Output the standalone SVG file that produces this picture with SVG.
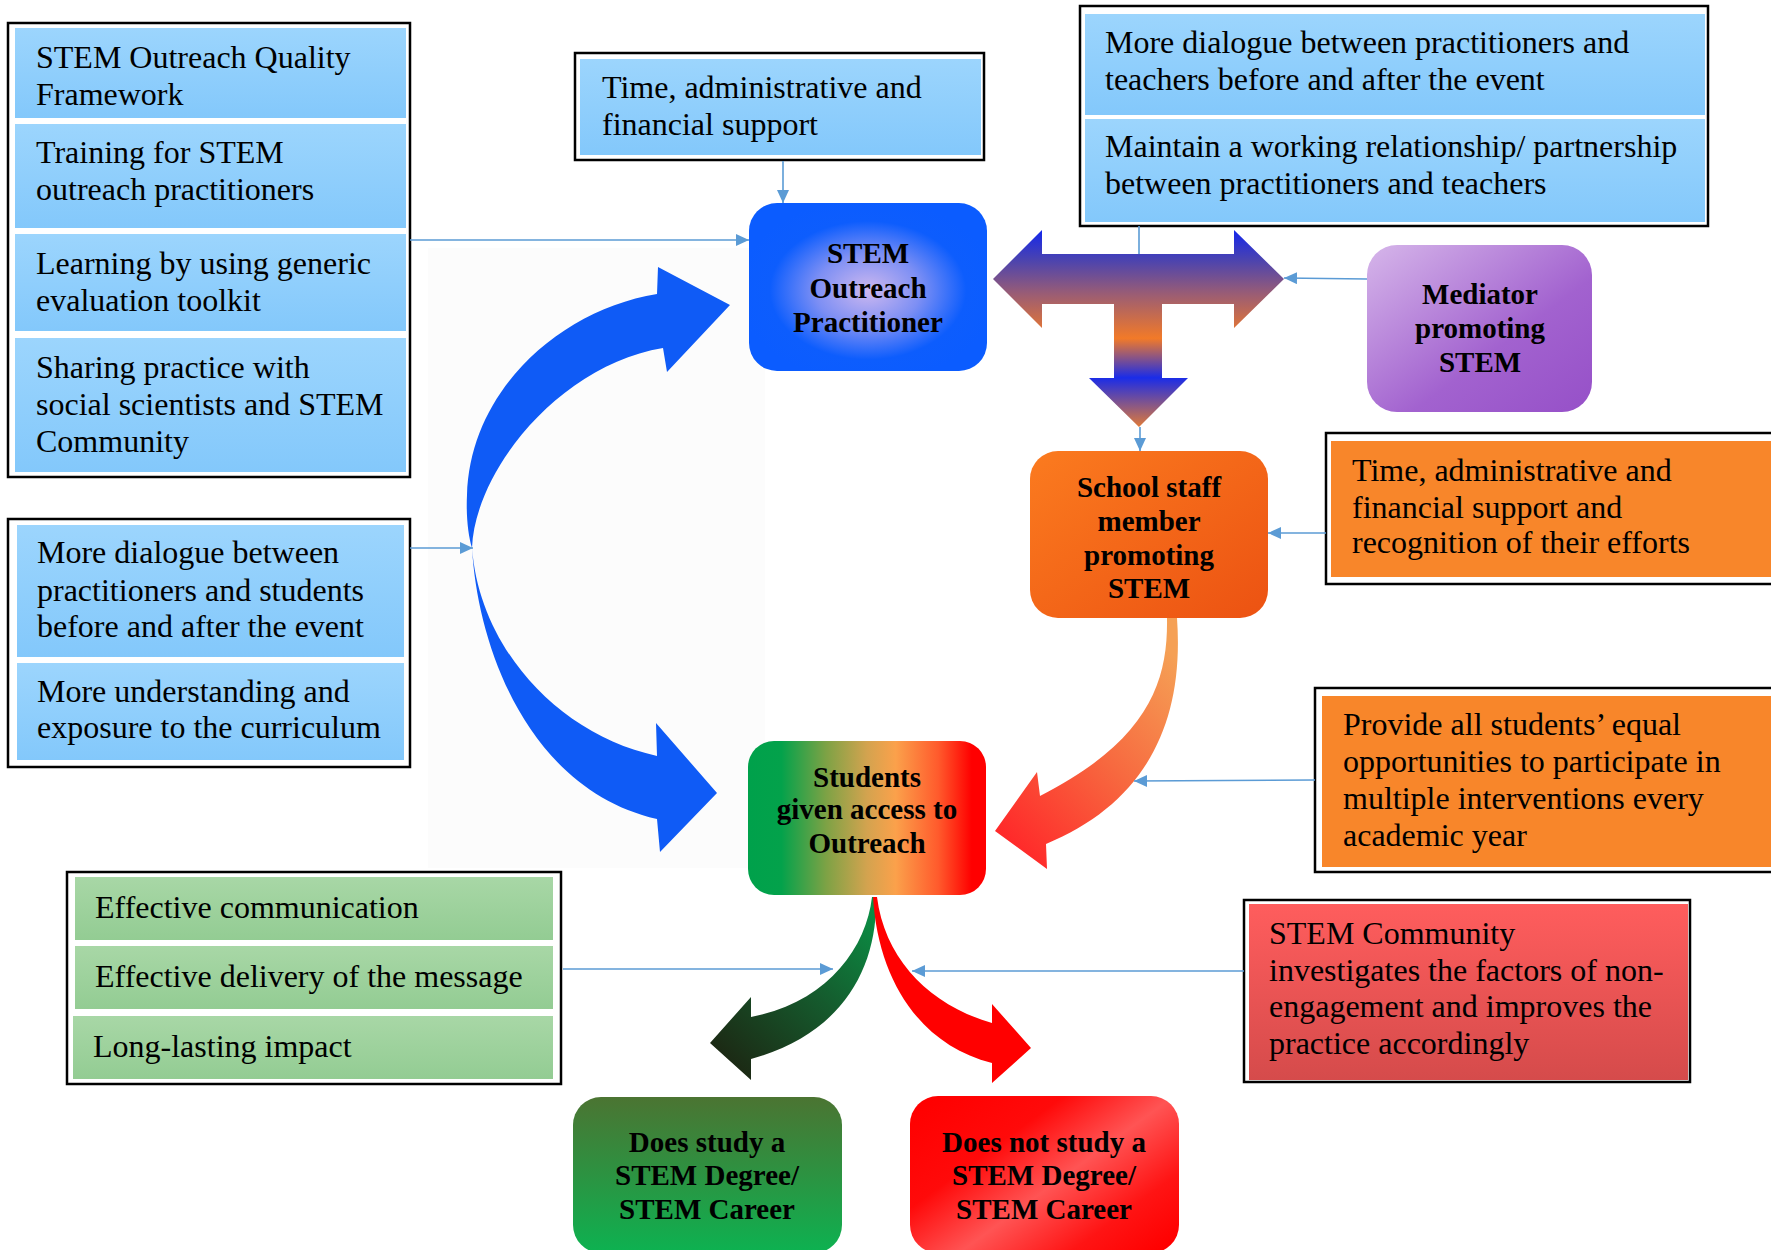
<svg xmlns="http://www.w3.org/2000/svg" width="1771" height="1250" viewBox="0 0 1771 1250">
<style>
.t{font-family:"Liberation Serif","Times New Roman",serif;font-size:32px;fill:#000}
.b{font-family:"Liberation Serif","Times New Roman",serif;font-size:29px;font-weight:bold;fill:#000;text-anchor:middle}
.frame{fill:#fff;stroke:#000;stroke-width:2.5}
.conn{stroke:#5b9bd5;stroke-width:1.6;fill:none}
.blue{fill:url(#gBlueCell)}
.orange{fill:#f8862a}
.green{fill:url(#gGreenCell)}
</style>
<defs>
<marker id="ah" markerUnits="userSpaceOnUse" markerWidth="14" markerHeight="14" refX="13" refY="6" orient="auto">
<path d="M0,0 L13,6 L0,12 Z" fill="#5b9bd5"/>
</marker>
<linearGradient id="gBlueCell" x1="0" y1="0" x2="0" y2="1"><stop offset="0" stop-color="#9cd5fd"/><stop offset="1" stop-color="#83c8fb"/></linearGradient>
<linearGradient id="gGreenCell" x1="0" y1="0" x2="0" y2="1"><stop offset="0" stop-color="#a8d7a6"/><stop offset="1" stop-color="#93cc93"/></linearGradient>
<linearGradient id="gRedBox" x1="0" y1="0" x2="0" y2="1"><stop offset="0" stop-color="#ff5d5d"/><stop offset="1" stop-color="#d54b4b"/></linearGradient>
<radialGradient id="gPract" cx="0.5" cy="0.52" r="0.55"><stop offset="0" stop-color="#cdb8ef"/><stop offset="0.4" stop-color="#7d8ff4"/><stop offset="0.75" stop-color="#0d5dfd"/><stop offset="1" stop-color="#0b5cff"/></radialGradient>
<linearGradient id="gMed" x1="0" y1="0" x2="1" y2="1"><stop offset="0" stop-color="#d6b6ea"/><stop offset="0.6" stop-color="#a262cf"/><stop offset="1" stop-color="#9650c8"/></linearGradient>
<linearGradient id="gSchool" x1="0" y1="0" x2="1" y2="1"><stop offset="0" stop-color="#fb7b1f"/><stop offset="1" stop-color="#ec5212"/></linearGradient>
<linearGradient id="gStud" x1="0" y1="0" x2="1" y2="0"><stop offset="0" stop-color="#00a14b"/><stop offset="0.14" stop-color="#03a24b"/><stop offset="0.33" stop-color="#7ea245"/><stop offset="0.5" stop-color="#d3a34f"/><stop offset="0.62" stop-color="#fba14b"/><stop offset="0.8" stop-color="#ff5a2c"/><stop offset="0.94" stop-color="#ff0000"/><stop offset="1" stop-color="#ff0000"/></linearGradient>
<linearGradient id="gDoes" x1="0" y1="0" x2="0" y2="1"><stop offset="0" stop-color="#4b7432"/><stop offset="1" stop-color="#0db251"/></linearGradient>
<linearGradient id="gNot" x1="0" y1="0.1" x2="1" y2="0.9"><stop offset="0" stop-color="#ff0000"/><stop offset="0.3" stop-color="#ff0a0a"/><stop offset="0.55" stop-color="#ff5454"/><stop offset="0.8" stop-color="#ff1414"/><stop offset="1" stop-color="#ff0000"/></linearGradient>
<linearGradient id="gT" gradientUnits="userSpaceOnUse" x1="0" y1="230" x2="0" y2="427"><stop offset="0" stop-color="#1427ec"/><stop offset="0.15" stop-color="#4a43b0"/><stop offset="0.32" stop-color="#985c76"/><stop offset="0.55" stop-color="#f27a28"/><stop offset="0.75" stop-color="#1a2ce8"/><stop offset="1" stop-color="#e07a38"/></linearGradient>
<linearGradient id="gOrangeArrow" gradientUnits="userSpaceOnUse" x1="1000" y1="830" x2="1178" y2="660"><stop offset="0" stop-color="#ff2a2a"/><stop offset="0.5" stop-color="#f7683f"/><stop offset="1" stop-color="#f5a055"/></linearGradient>
<linearGradient id="gGreenArrow" gradientUnits="userSpaceOnUse" x1="872" y1="900" x2="725" y2="1060"><stop offset="0" stop-color="#0a9246"/><stop offset="0.5" stop-color="#155a2d"/><stop offset="1" stop-color="#1c2914"/></linearGradient>
</defs>
<rect width="1771" height="1250" fill="#fff"/>
<rect x="428" y="248" width="337" height="620" fill="#fcfcfc"/>

<g id="box-practitioner-support">
<rect class="frame" x="8" y="23" width="402" height="454"/>
<rect class="blue" x="15" y="28" width="391" height="90"/>
<rect class="blue" x="15" y="124" width="391" height="104"/>
<rect class="blue" x="15" y="234" width="391" height="97"/>
<rect class="blue" x="15" y="338" width="391" height="134"/>
<text class="t"><tspan x="36" y="68">STEM Outreach Quality</tspan><tspan x="36" y="105">Framework</tspan></text>
<text class="t"><tspan x="36" y="163">Training for STEM</tspan><tspan x="36" y="200">outreach practitioners</tspan></text>
<text class="t"><tspan x="36" y="274">Learning by using generic</tspan><tspan x="36" y="311">evaluation toolkit</tspan></text>
<text class="t"><tspan x="36" y="378">Sharing practice with</tspan><tspan x="36" y="415">social scientists and STEM</tspan><tspan x="36" y="452">Community</tspan></text>
</g>

<g id="box-time-support">
<rect class="frame" x="575" y="53" width="409" height="107"/>
<rect class="blue" x="580" y="59" width="401" height="96"/>
<text class="t"><tspan x="602" y="98">Time, administrative and</tspan><tspan x="602" y="135">financial support</tspan></text>
</g>

<g id="box-teacher-dialogue">
<rect class="frame" x="1080" y="6" width="628" height="220"/>
<rect class="blue" x="1085" y="14" width="620" height="101"/>
<rect class="blue" x="1085" y="119" width="620" height="103"/>
<text class="t"><tspan x="1105" y="53">More dialogue between practitioners and</tspan><tspan x="1105" y="90">teachers before and after the event</tspan></text>
<text class="t"><tspan x="1105" y="157">Maintain a working relationship/ partnership</tspan><tspan x="1105" y="194">between practitioners and teachers</tspan></text>
</g>

<g id="box-school-support">
<rect class="frame" x="1326" y="433" width="470" height="151"/>
<rect class="orange" x="1331" y="441" width="460" height="136"/>
<text class="t"><tspan x="1352" y="481">Time, administrative and</tspan><tspan x="1352" y="518">financial support and</tspan><tspan x="1352" y="553">recognition of their efforts</tspan></text>
</g>

<g id="box-equal-opportunities">
<rect class="frame" x="1315" y="688" width="480" height="184"/>
<rect class="orange" x="1322" y="696" width="470" height="171"/>
<text class="t"><tspan x="1343" y="735">Provide all students’ equal</tspan><tspan x="1343" y="772">opportunities to participate in</tspan><tspan x="1343" y="809">multiple interventions every</tspan><tspan x="1343" y="846">academic year</tspan></text>
</g>

<g id="box-student-dialogue">
<rect class="frame" x="8" y="519" width="402" height="248"/>
<rect class="blue" x="17" y="525" width="387" height="132"/>
<rect class="blue" x="17" y="663" width="387" height="97"/>
<text class="t"><tspan x="37" y="563">More dialogue between</tspan><tspan x="37" y="601">practitioners and students</tspan><tspan x="37" y="637">before and after the event</tspan></text>
<text class="t"><tspan x="37" y="702">More understanding and</tspan><tspan x="37" y="738">exposure to the curriculum</tspan></text>
</g>

<g id="box-effective">
<rect class="frame" x="67" y="872" width="494" height="212"/>
<rect class="green" x="75" y="877" width="478" height="63"/>
<rect class="green" x="75" y="946" width="478" height="63"/>
<rect class="green" x="73" y="1016" width="480" height="63"/>
<text class="t" x="95" y="918">Effective communication</text>
<text class="t" x="95" y="987">Effective delivery of the message</text>
<text class="t" x="93" y="1057">Long-lasting impact</text>
</g>

<g id="box-community">
<rect class="frame" x="1244" y="900" width="446" height="182"/>
<rect x="1249" y="904" width="439" height="176" fill="url(#gRedBox)"/>
<text class="t"><tspan x="1269" y="944">STEM Community</tspan><tspan x="1269" y="981">investigates the factors of non-</tspan><tspan x="1269" y="1017">engagement and improves the</tspan><tspan x="1269" y="1054">practice accordingly</tspan></text>
</g>

<g id="connectors">
<path id="blue-cycle-arrow" fill="#0f5bf6" d="M730,305 L667,372 L663,348 C560,365 475,470 472,548 C480,650 560,735 657,756 L656,723 L717,793 L660,852 L657,819 C530,790 478,650 472,548 C468,535 466,515 467,495 C470,390 560,310 657,294 L658,267 Z"/>
<path id="t-arrow" fill="url(#gT)" d="M993,279 L1042,230 L1042,254 L1234,254 L1234,230 L1284,279 L1234,328 L1234,304 L1162,304 L1162,378 L1188,378 L1139,427 L1089,378 L1114,378 L1114,304 L1042,304 L1042,328 Z"/>
<path id="orange-arrow" fill="url(#gOrangeArrow)" d="M1167,618 C1168,680 1150,740 1040,796 L1037,772 L995,831 L1047,869 L1046,844 C1140,805 1185,730 1177,618 Z"/>
<path id="green-arrow" fill="url(#gGreenArrow)" d="M872,897 C866,950 825,1003 751,1017 L751,997 L710,1043 L751,1080 L751,1059 C840,1035 878,970 876,897 Z"/>
<path id="red-arrow" fill="#ff0000" d="M873,897 C878,980 920,1045 992,1063 L992,1083 L1031,1048 L992,1004 L992,1023 C930,1005 885,960 877,897 Z"/>
<line class="conn" x1="783" y1="161" x2="783" y2="203" marker-end="url(#ah)"/>
<line class="conn" x1="410" y1="240" x2="749" y2="240" marker-end="url(#ah)"/>
<line class="conn" x1="1139" y1="226" x2="1139" y2="254"/>
<line class="conn" x1="1140" y1="427" x2="1140" y2="451" marker-end="url(#ah)"/>
<line class="conn" x1="1367" y1="279" x2="1284" y2="278" marker-end="url(#ah)"/>
<line class="conn" x1="1326" y1="533" x2="1268" y2="533" marker-end="url(#ah)"/>
<line class="conn" x1="410" y1="548" x2="473" y2="548" marker-end="url(#ah)"/>
<line class="conn" x1="1315" y1="780" x2="1134" y2="781" marker-end="url(#ah)"/>
<line class="conn" x1="563" y1="969" x2="833" y2="969" marker-end="url(#ah)"/>
<line class="conn" x1="1244" y1="971" x2="912" y2="971" marker-end="url(#ah)"/>
</g>

<g id="node-practitioner">
<rect x="749" y="203" width="238" height="168" rx="28" fill="url(#gPract)"/>
<text class="b"><tspan x="868" y="263">STEM</tspan><tspan x="868" y="298">Outreach</tspan><tspan x="868" y="332">Practitioner</tspan></text>
</g>
<g id="node-mediator">
<rect x="1367" y="245" width="225" height="167" rx="30" fill="url(#gMed)"/>
<text class="b"><tspan x="1480" y="304">Mediator</tspan><tspan x="1480" y="338">promoting</tspan><tspan x="1480" y="372">STEM</tspan></text>
</g>
<g id="node-school">
<rect x="1030" y="451" width="238" height="167" rx="28" fill="url(#gSchool)"/>
<text class="b"><tspan x="1149" y="497">School staff</tspan><tspan x="1149" y="531">member</tspan><tspan x="1149" y="565">promoting</tspan><tspan x="1149" y="598">STEM</tspan></text>
</g>
<g id="node-students">
<rect x="748" y="741" width="238" height="154" rx="26" fill="url(#gStud)"/>
<text class="b"><tspan x="867" y="787">Students</tspan><tspan x="867" y="819">given access to</tspan><tspan x="867" y="853">Outreach</tspan></text>
</g>
<g id="node-does-study">
<rect x="573" y="1097" width="269" height="156" rx="28" fill="url(#gDoes)"/>
<text class="b"><tspan x="707" y="1152">Does study a</tspan><tspan x="707" y="1185">STEM Degree/</tspan><tspan x="707" y="1219">STEM Career</tspan></text>
</g>
<g id="node-does-not-study">
<rect x="910" y="1096" width="269" height="157" rx="28" fill="url(#gNot)"/>
<text class="b"><tspan x="1044" y="1152">Does not study a</tspan><tspan x="1044" y="1185">STEM Degree/</tspan><tspan x="1044" y="1219">STEM Career</tspan></text>
</g>
</svg>
